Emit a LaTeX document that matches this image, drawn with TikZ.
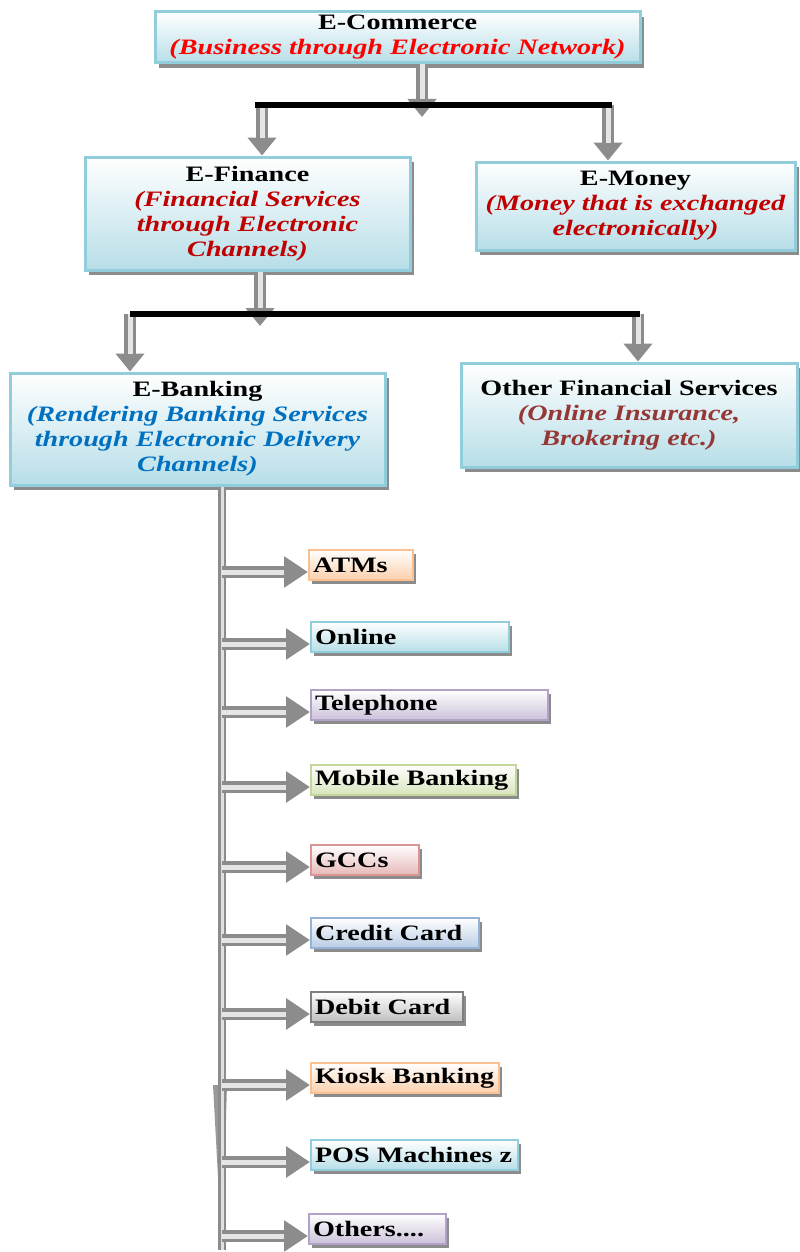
\documentclass[tikz,border=0pt]{standalone}
\usepackage{fontspec}
\setmainfont{Liberation Serif}[FakeStretch=1.28]
\usetikzlibrary{arrows.meta,shadows,calc}
\definecolor{boxedge}{HTML}{92CDDC}
\definecolor{boxfill}{HTML}{B7DEE8}
\definecolor{ecred}{HTML}{FF0000}
\definecolor{finred}{HTML}{C00000}
\definecolor{bankblue}{HTML}{0070C0}
\definecolor{otherred}{HTML}{953735}
\definecolor{orangeE}{HTML}{FAC090}
\definecolor{orangeF}{HTML}{FBD0AC}
\definecolor{aquaE}{HTML}{92CDDC}
\definecolor{aquaF}{HTML}{B7DEE8}
\definecolor{purpleE}{HTML}{B3A2C7}
\definecolor{purpleF}{HTML}{CCC1DA}
\definecolor{greenE}{HTML}{C3D69B}
\definecolor{greenF}{HTML}{D7E4BD}
\definecolor{redE}{HTML}{D99694}
\definecolor{redF}{HTML}{E6B9B8}
\definecolor{blueE}{HTML}{95B3D7}
\definecolor{blueF}{HTML}{B9CDE5}
\definecolor{grayE}{HTML}{7F7F7F}
\definecolor{grayF}{HTML}{BFBFBF}
\newcommand{\boxsub}[2]{\textcolor{#1}{\itshape #2}}
\newcommand{\othersdots}{Others....}
\begin{document}
\begin{tikzpicture}
[x=0.5pt, y=-0.5pt,
  boxdecorate/.style={draw=boxedge, line width=1.5pt, top color=white,
    bottom color=boxfill, align=center, inner sep=0pt,
    font=\fontsize{11}{12.5}\selectfont\bfseries,
    drop shadow={shadow xshift=2pt, shadow yshift=-2.5pt, fill=black!45, opacity=1}},
  leafdecorate/.style={line width=1pt, top color=white, anchor=west,
    inner xsep=2pt, inner ysep=0pt, minimum height=15pt,
    font=\fontsize{11}{12}\selectfont\bfseries,
    drop shadow={shadow xshift=1.5pt, shadow yshift=-2pt, fill=black!45, opacity=1}},
  downdecorate/.style={draw=black!45, line width=6pt,
    -{Triangle[length=9pt,width=14pt]},
    postaction={draw=black!10, line width=2.5pt, -, shorten >=9pt}},
  branchdecorate/.style={draw=black!45, line width=6pt,
    -{Triangle[length=12pt,width=15pt]},
    postaction={draw=black!10, line width=2.5pt, -, shorten >=12pt}},
  trunkdecorate/.style={draw=black!45, line width=4pt,
    postaction={draw=black!12, line width=1.5pt}},
  bardecorate/.style={draw=black, line width=3pt}]
\useasboundingbox (0,0) rectangle (799,1252);
%% main boxes
\node (ecom) [boxdecorate, minimum width=242.5pt, minimum height=25.5pt]
  at (397.5,37.5) {E-Commerce\\\boxsub{ecred}{(Business through Electronic Network)}};
\node (efin) [boxdecorate, minimum width=162.5pt, minimum height=56.5pt]
  at (247.5,213.5) {E-Finance\\\boxsub{finred}{(Financial Services}\\
  \boxsub{finred}{through Electronic}\\\boxsub{finred}{Channels)}};
\node (emoney) [boxdecorate, minimum width=159.5pt, minimum height=44pt]
  at (635.5,206) {E-Money\\\boxsub{finred}{(Money that is exchanged}\\
  \boxsub{finred}{electronically)}};
\node (ebank) [boxdecorate, minimum width=187.5pt, minimum height=56pt]
  at (197.5,429) {E-Banking\\\boxsub{bankblue}{(Rendering Banking Services}\\
  \boxsub{bankblue}{through Electronic Delivery}\\\boxsub{bankblue}{Channels)}};
\node (other) [boxdecorate, minimum width=168pt, minimum height=52pt]
  at (629,415) {Other Financial Services\\\boxsub{otherred}{(Online Insurance,}\\
  \boxsub{otherred}{Brokering etc.)}};
%% channel boxes
\foreach \nodename/\x/\y/\w/\col/\text in {atms/308/565/48/orange/ATMs,
  online/310/637/95/aqua/Online, phone/310/705/114.5/purple/Telephone,
  mobile/310/780/98.5/green/Mobile Banking, gccs/310/860/50/red/GCCs,
  credit/310/933/80/blue/Credit Card, debit/310/1007/72/gray/Debit Card,
  kiosk/310/1078/90/orange/Kiosk Banking, pos/310/1155/99.5/aqua/POS Machines z,
  others/308/1229/64.5/purple/\othersdots}
{
  \node (\nodename) at (\x,\y) [leafdecorate, draw=\col E, bottom color=\col F]
    {\makebox[\w pt][l]{\text}};
}
%% bars and arrows
\coordinate (bar1l) at (255,105);
\coordinate (bar1r) at (612,105);
\coordinate (bar1in) at (422,117);
\coordinate (bar1a) at (262,105);
\coordinate (bar1b) at (608,105);
\coordinate (bar2l) at (130,314);
\coordinate (bar2r) at (640,314);
\coordinate (bar2in) at (260,326);
\coordinate (bar2a) at (130,314);
\coordinate (bar2b) at (638,314);
\coordinate (trunkwedge) at (221,1085);
\coordinate (trunkend) at (222,1250);
\draw[downdecorate] (ecom.south -| bar1in) -- (bar1in);
\draw[downdecorate] (bar1a) -- (bar1a |- efin.north);
\draw[downdecorate] (bar1b) -- (bar1b |- emoney.north);
\draw[bardecorate] (bar1l) -- (bar1r);
\draw[downdecorate] (efin.south -| bar2in) -- (bar2in);
\draw[downdecorate] (bar2a) -- (bar2a |- ebank.north);
\draw[downdecorate] (bar2b) -- (bar2b |- other.north);
\draw[bardecorate] (bar2l) -- (bar2r);
\fill[black!40] ([xshift=-4pt]trunkwedge) -- ([xshift=3pt]trunkwedge)
  -- (trunkend) -- cycle;
\draw[trunkdecorate] (ebank.south -| trunkend) -- (trunkend);
\foreach \nodename in {atms, online, phone, mobile, gccs, credit, debit,
  kiosk, pos, others}
{
  \coordinate (\nodename-in) at ($(\nodename.west)+(0,7)$);
  \draw[branchdecorate] (\nodename-in -| trunkend) -- (\nodename-in);
}
\end{tikzpicture}
\end{document}
